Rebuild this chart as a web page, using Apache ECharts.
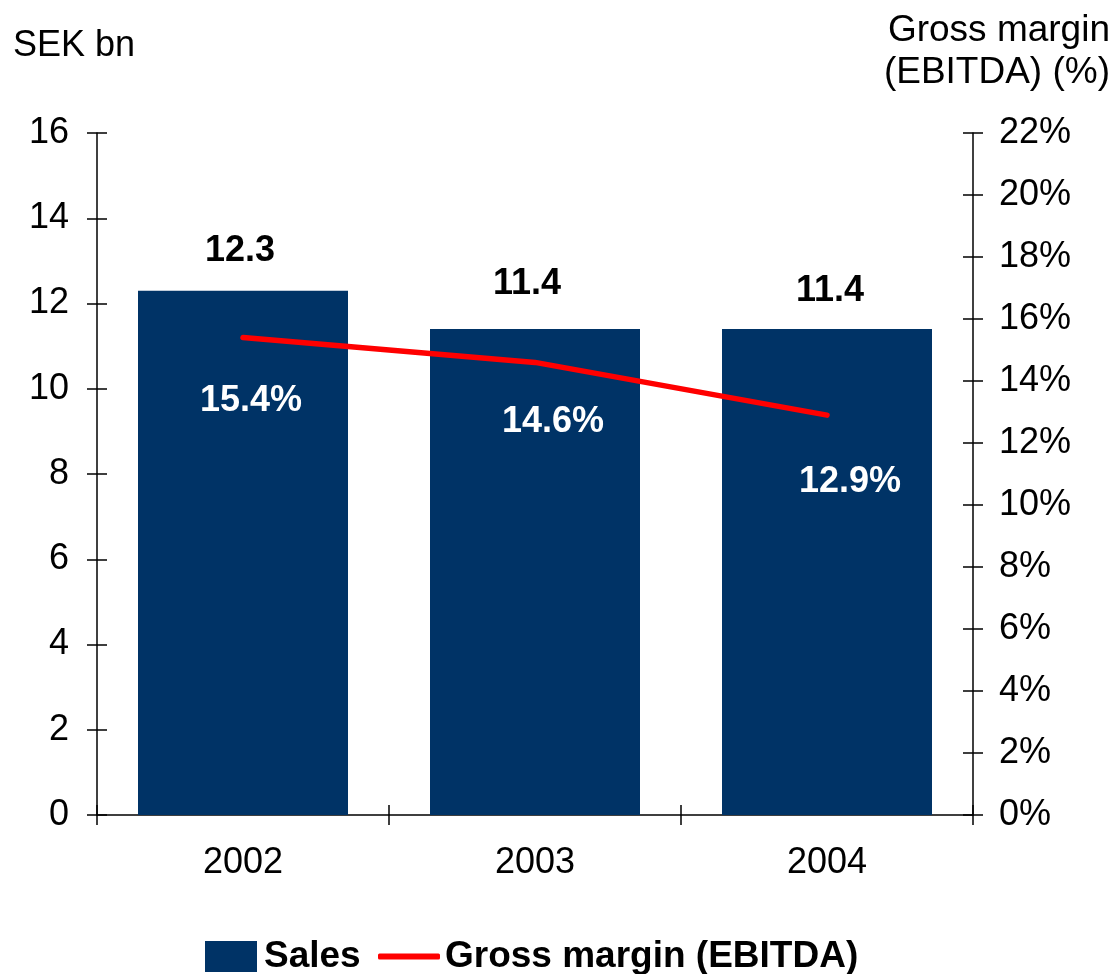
<!DOCTYPE html>
<html>
<head>
<meta charset="utf-8">
<script src="https://cdn.jsdelivr.net/npm/echarts@6/dist/echarts.min.js"></script>
<style>
  html, body { margin: 0; padding: 0; background: #fff; }
  #chart { width: 1115px; height: 974px; }
</style>
</head>
<body>
<div id="chart"></div>
<script>
// Annual sales (SEK bn) and EBITDA gross margin (%)
const years = ['2002', '2003', '2004'];
const sales = [12.3, 11.4, 11.4];
const grossMargin = [15.4, 14.6, 12.9];

const salesTicks = { min: 0, max: 16, interval: 2 };
const marginTicks = { min: 0, max: 22, interval: 2 };

// small per-label nudges (pixels)
const salesLabelNudge = [[-3, 0], [-8, -5], [3, 2]];
const marginLabelNudge = [[8, 0], [18, -4], [23, 3]];

const FONT = '"Liberation Sans", Arial, Helvetica, sans-serif';
const NAVY = '#003366';
const RED = '#ff0000';

const chart = echarts.init(document.getElementById('chart'), null, { renderer: 'canvas' });

const tickFont = { color: '#000', fontFamily: FONT, fontSize: 36 };
const axisLine = { show: true, lineStyle: { color: '#000', width: 1.5 } };
const tickOut = { show: true, inside: false, length: 10, lineStyle: { color: '#000', width: 1.5 } };
const tickIn = { show: true, inside: true, length: 10, lineStyle: { color: '#000', width: 1.5 } };

const option = {
  animation: false,
  backgroundColor: '#fff',
  grid: { left: 97, right: 142, top: 133, bottom: 159, containLabel: false },
  xAxis: [
    {
      type: 'category', data: years, position: 'bottom',
      axisLine: axisLine, axisTick: tickOut,
      axisLabel: Object.assign({ margin: 30 }, tickFont),
      splitLine: { show: false }
    },
    {
      type: 'category', data: years, position: 'bottom',
      axisLine: { show: false }, axisTick: tickIn,
      axisLabel: { show: false }, splitLine: { show: false }
    }
  ],
  yAxis: [
    Object.assign({
      type: 'value', position: 'left',
      axisLine: axisLine, axisTick: tickOut,
      axisLabel: Object.assign({ margin: 28 }, tickFont),
      splitLine: { show: false }
    }, salesTicks),
    Object.assign({
      type: 'value', position: 'right',
      axisLine: axisLine, axisTick: tickOut,
      axisLabel: Object.assign({ margin: 26, formatter: '{value}%' }, tickFont),
      splitLine: { show: false }
    }, marginTicks),
    Object.assign({
      type: 'value', position: 'left',
      axisLine: { show: false }, axisTick: tickIn,
      axisLabel: { show: false }, splitLine: { show: false }
    }, salesTicks),
    Object.assign({
      type: 'value', position: 'right',
      axisLine: { show: false }, axisTick: tickIn,
      axisLabel: { show: false }, splitLine: { show: false }
    }, marginTicks)
  ],
  legend: [
    {
      data: ['Sales'], left: 205, top: 938, padding: 0,
      icon: 'rect', itemWidth: 52, itemHeight: 31, itemGap: 0,
      textStyle: { color: '#000', fontFamily: FONT, fontSize: 37, fontWeight: 'bold', padding: [0, 0, 0, 2] }
    },
    {
      data: ['Gross margin (EBITDA)'], left: 378, top: 938, padding: 0,
      icon: 'roundRect', itemWidth: 62, itemHeight: 6, itemGap: 0,
      itemStyle: { color: RED },
      textStyle: { color: '#000', fontFamily: FONT, fontSize: 37, fontWeight: 'bold', padding: [0, 0, 0, 0] }
    }
  ],
  graphic: [
    {
      type: 'text', x: 13, y: 28, silent: true,
      style: { text: 'SEK bn', fill: '#000', fontFamily: FONT, fontSize: 36, align: 'left', verticalAlign: 'top' }
    },
    {
      type: 'text', x: 1110, y: 10, silent: true,
      style: { text: 'Gross margin\n(EBITDA) (%)', fill: '#000', fontFamily: FONT, fontSize: 37, lineHeight: 42, align: 'right', verticalAlign: 'top' }
    }
  ],
  series: [
    {
      name: 'Sales', type: 'bar', xAxisIndex: 0, yAxisIndex: 0,
      barWidth: 210,
      itemStyle: { color: NAVY },
      data: sales.map((v, i) => ({ value: v, label: { offset: salesLabelNudge[i] } })),
      label: {
        show: true, position: 'top', distance: 22,
        color: '#000', fontFamily: FONT, fontSize: 36, fontWeight: 'bold',
        formatter: p => p.value.toFixed(1)
      },
      z: 2
    },
    {
      name: 'Gross margin (EBITDA)', type: 'line', xAxisIndex: 0, yAxisIndex: 1,
      symbol: 'circle', symbolSize: 1, showSymbol: true,
      itemStyle: { color: RED },
      lineStyle: { color: RED, width: 5.5, cap: 'round', join: 'round' },
      data: grossMargin.map((v, i) => ({ value: v, label: { offset: marginLabelNudge[i] } })),
      label: {
        show: true, position: 'bottom', distance: 45,
        color: '#fff', fontFamily: FONT, fontSize: 36, fontWeight: 'bold',
        formatter: p => p.value.toFixed(1) + '%'
      },
      z: 3
    }
  ]
};

chart.setOption(option);
</script>
</body>
</html>
